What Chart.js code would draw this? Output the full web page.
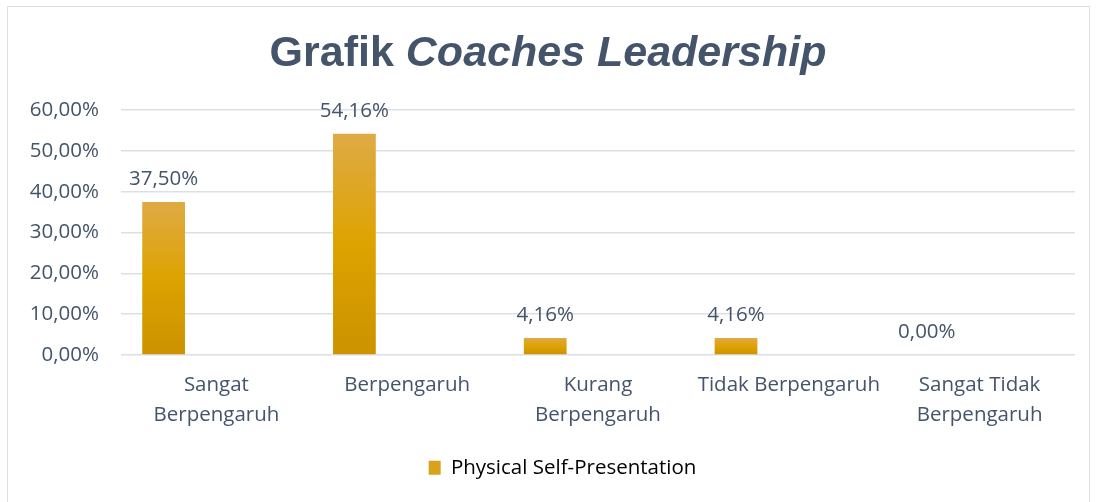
<!DOCTYPE html>
<html>
<head>
<meta charset="utf-8">
<script src="https://cdn.jsdelivr.net/npm/chart.js@4"></script>
<style>
  html, body { margin: 0; padding: 0; background: #ffffff; }
  #wrap { position: relative; width: 1097px; height: 502px; overflow: hidden; }
  #frame { position: absolute; left: 7px; top: 6px; width: 1083px; height: 510px; border: 1.5px solid #DCE0E6; box-sizing: border-box; pointer-events: none; }
  canvas { position: absolute; left: 0; top: 0; }
</style>
</head>
<body>
<div id="wrap">
  <canvas id="c" width="1097" height="502"></canvas>
  <div id="frame"></div>
</div>
<script>
const titlePlain = 'Grafik ';
const titleItalic = 'Coaches Leadership';
const categories = [
  ['Sangat', 'Berpengaruh'],
  'Berpengaruh',
  ['Kurang', 'Berpengaruh'],
  'Tidak Berpengaruh',
  ['Sangat Tidak', 'Berpengaruh']
];
const seriesName = 'Physical Self-Presentation';
const seriesValues = [37.50, 54.16, 4.16, 4.16, 0.00];
const yTicks = [0, 10, 20, 30, 40, 50, 60];

const TEXT = '#44546A';
const FONT = "'Open Sans'";
const FS = 20.5;
const fmt = v => v.toFixed(2).replace('.', ',') + '%';

function barGradient(ctx) {
  const chart = ctx.chart;
  if (!chart.chartArea || ctx.type !== 'data') return '#DDA300';
  const y = chart.scales.y;
  const top = y.getPixelForValue(ctx.raw);
  const bottom = y.getPixelForValue(0);
  if (!(bottom - top > 0.5)) return '#DDA300';
  const g = chart.ctx.createLinearGradient(0, top, 0, bottom);
  g.addColorStop(0, '#DFAA45');
  g.addColorStop(0.5, '#DDA300');
  g.addColorStop(1, '#CC9200');
  return g;
}

const titlePlugin = {
  id: 'mixedTitle',
  afterDraw(chart) {
    const c = chart.ctx;
    c.save();
    c.fillStyle = TEXT;
    c.textBaseline = 'alphabetic';
    const f1 = "bold 43px 'Liberation Sans', Arial, sans-serif";
    const f2 = "italic bold 43px 'Liberation Sans', Arial, sans-serif";
    c.font = f1; const w1 = c.measureText(titlePlain).width;
    c.font = f2; const w2 = c.measureText(titleItalic).width;
    const x0 = 548 - (w1 + w2) / 2;
    const base = 66;
    c.font = f1; c.textAlign = 'left'; c.fillText(titlePlain, x0, base);
    c.font = f2; c.fillText(titleItalic, x0 + w1, base);
    c.restore();
  }
};

const legendShift = {
  id: 'legendShift',
  afterLayout(chart) {
    if (chart.legend) { chart.legend.left = 50; }
  }
};

const valueLabels = {
  id: 'valueLabels',
  afterDatasetsDraw(chart) {
    const c = chart.ctx;
    const meta = chart.getDatasetMeta(0);
    c.save();
    c.font = FS + "px " + FONT;
    c.fillStyle = TEXT;
    c.textAlign = 'center';
    c.textBaseline = 'alphabetic';
    meta.data.forEach((bar, i) => {
      c.fillText(fmt(seriesValues[i]), bar.x, bar.y - 17);
    });
    c.restore();
  }
};

new Chart(document.getElementById('c'), {
  type: 'bar',
  data: {
    labels: categories,
    datasets: [
      { label: seriesName, data: seriesValues, backgroundColor: barGradient, borderWidth: 0,
        categoryPercentage: 0.83, barPercentage: 0.81 },
      { label: '', data: categories.map(() => null), backgroundColor: 'transparent',
        categoryPercentage: 0.83, barPercentage: 0.81 },
      { label: '', data: categories.map(() => null), backgroundColor: 'transparent',
        categoryPercentage: 0.83, barPercentage: 0.81 }
    ]
  },
  options: {
    responsive: false,
    animation: false,
    devicePixelRatio: 1,
    layout: { padding: { top: 110, left: 0, right: 22, bottom: 14 } },
    scales: {
      x: {
        grid: { display: false, drawTicks: false },
        border: { display: false },
        ticks: { color: TEXT, font: { family: FONT, size: FS, lineHeight: 1.42 }, padding: 16, maxRotation: 0, autoSkip: false },
        afterFit(scale) { scale.height = 92.5; }
      },
      y: {
        min: 0, max: 60,
        afterBuildTicks(scale) { scale.ticks = yTicks.map(v => ({ value: v })); },
        grid: { color: '#DCE0E5', lineWidth: 1.5, drawTicks: false },
        border: { display: false },
        ticks: { color: TEXT, font: { family: FONT, size: FS }, padding: 22, callback: v => fmt(v) },
        afterFit(scale) { scale.width = 121; }
      }
    },
    plugins: {
      title: { display: false },
      tooltip: { enabled: false },
      legend: {
        position: 'bottom',
        labels: {
          color: TEXT,
          font: { family: FONT, size: FS },
          boxWidth: 12, boxHeight: 14, padding: 10,
          generateLabels: () => [{ text: seriesName, fillStyle: '#DAA21C', strokeStyle: 'transparent', lineWidth: 0, datasetIndex: 0, hidden: false }]
        }
      }
    }
  },
  plugins: [titlePlugin, legendShift, valueLabels]
});
</script>
</body>
</html>
